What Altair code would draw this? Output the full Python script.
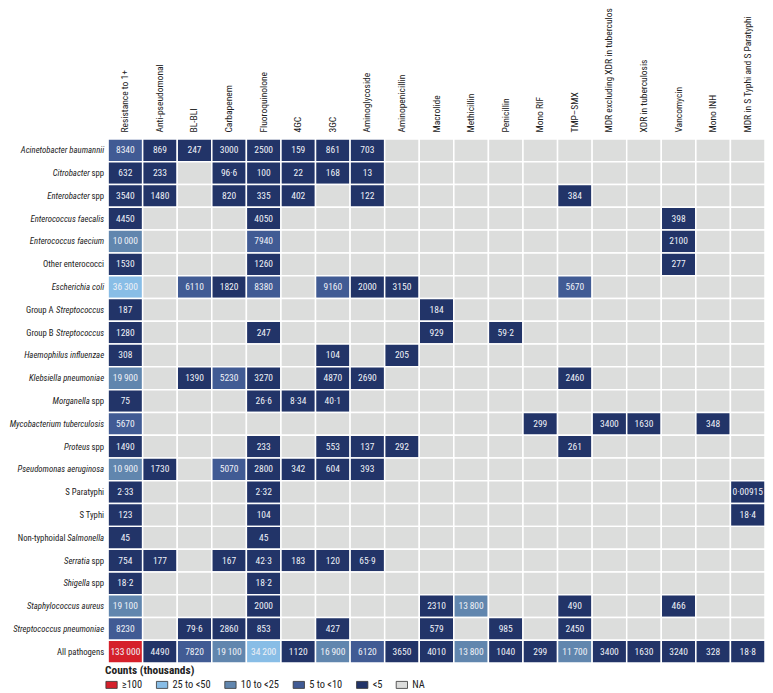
import altair as alt
import pandas as pd

FONT = "Roboto Condensed, Roboto, sans-serif"

drugs = [
    "Resistance to 1+", "Anti-pseudomonal", "BL-BLI", "Carbapenem", "Fluoroquinolone",
    "4GC", "3GC", "Aminoglycoside", "Aminopenicillin", "Macrolide", "Methicillin",
    "Penicillin", "Mono RIF", "TMP\u2013SMX", "MDR excluding XDR in tuberculosis",
    "XDR in tuberculosis", "Vancomycin", "Mono INH", "MDR in S Typhi and S Paratyphi",
]

pathogens = [
    "Acinetobacter baumannii", "Citrobacter spp", "Enterobacter spp", "Enterococcus faecalis",
    "Enterococcus faecium", "Other enterococci", "Escherichia coli", "Group A Streptococcus",
    "Group B Streptococcus", "Haemophilus influenzae", "Klebsiella pneumoniae", "Morganella spp",
    "Mycobacterium tuberculosis", "Proteus spp", "Pseudomonas aeruginosa", "S Paratyphi",
    "S Typhi", "Non-typhoidal Salmonella", "Serratia spp", "Shigella spp",
    "Staphylococcus aureus", "Streptococcus pneumoniae", "All pathogens",
]
# label parts: normal prefix, italic part, normal suffix
prefix_part = ["", "", "", "", "", "", "", "Group A", "Group B", "", "", "", "", "", "", "",
               "", "Non-typhoidal", "", "", "", "", ""]
italic_part = ["Acinetobacter baumannii", "Citrobacter", "Enterobacter", "Enterococcus faecalis",
               "Enterococcus faecium", "", "Escherichia coli", "Streptococcus", "Streptococcus",
               "Haemophilus influenzae", "Klebsiella pneumoniae", "Morganella",
               "Mycobacterium tuberculosis", "Proteus", "Pseudomonas aeruginosa", "", "",
               "Salmonella", "Serratia", "Shigella", "Staphylococcus aureus",
               "Streptococcus pneumoniae", ""]
suffix_part = ["", " spp", " spp", "", "", "Other enterococci", "", "", "", "", "", " spp", "",
               " spp", "", "S Paratyphi", "S Typhi", "", " spp", " spp", "", "", "All pathogens"]

N = None
counts = [
    [8340, 869, 247, 3000, 2500, 159, 861, 703, N, N, N, N, N, N, N, N, N, N, N],
    [632, 233, N, 96.6, 100, 22, 168, 13, N, N, N, N, N, N, N, N, N, N, N],
    [3540, 1480, N, 820, 335, 402, N, 122, N, N, N, N, N, 384, N, N, N, N, N],
    [4450, N, N, N, 4050, N, N, N, N, N, N, N, N, N, N, N, 398, N, N],
    [10000, N, N, N, 7940, N, N, N, N, N, N, N, N, N, N, N, 2100, N, N],
    [1530, N, N, N, 1260, N, N, N, N, N, N, N, N, N, N, N, 277, N, N],
    [36300, N, 6110, 1820, 8380, N, 9160, 2000, 3150, N, N, N, N, 5670, N, N, N, N, N],
    [187, N, N, N, N, N, N, N, N, 184, N, N, N, N, N, N, N, N, N],
    [1280, N, N, N, 247, N, N, N, N, 929, N, 59.2, N, N, N, N, N, N, N],
    [308, N, N, N, N, N, 104, N, 205, N, N, N, N, N, N, N, N, N, N],
    [19900, N, 1390, 5230, 3270, N, 4870, 2690, N, N, N, N, N, 2460, N, N, N, N, N],
    [75, N, N, N, 26.6, 8.34, 40.1, N, N, N, N, N, N, N, N, N, N, N, N],
    [5670, N, N, N, N, N, N, N, N, N, N, N, 299, N, 3400, 1630, N, 348, N],
    [1490, N, N, N, 233, N, 553, 137, 292, N, N, N, N, 261, N, N, N, N, N],
    [10900, 1730, N, 5070, 2800, 342, 604, 393, N, N, N, N, N, N, N, N, N, N, N],
    [2.33, N, N, N, 2.32, N, N, N, N, N, N, N, N, N, N, N, N, N, 0.00915],
    [123, N, N, N, 104, N, N, N, N, N, N, N, N, N, N, N, N, N, 18.4],
    [45, N, N, N, 45, N, N, N, N, N, N, N, N, N, N, N, N, N, N],
    [754, 177, N, 167, 42.3, 183, 120, 65.9, N, N, N, N, N, N, N, N, N, N, N],
    [18.2, N, N, N, 18.2, N, N, N, N, N, N, N, N, N, N, N, N, N, N],
    [19100, N, N, N, 2000, N, N, N, N, 2310, 13800, N, N, 490, N, N, 466, N, N],
    [8230, N, 79.6, 2860, 853, N, 427, N, N, 579, N, 985, N, 2450, N, N, N, N, N],
    [133000, 4490, 7820, 19100, 34200, 1120, 16900, 6120, 3650, 4010, 13800, 1040, 299,
     11700, 3400, 1630, 3240, 328, 18.8],
]

categories = ["\u2265100", "25 to <50", "10 to <25", "5 to <10", "<5", "NA"]
cat_colors = ["#d5202b", "#88bde6", "#6186ae", "#415b94", "#223468", "#dcdddc"]


def category(v):
    if v is None:
        return "NA"
    if v >= 100000:
        return "\u2265100"
    if v >= 25000:
        return "25 to <50"
    if v >= 10000:
        return "10 to <25"
    if v >= 5000:
        return "5 to <10"
    return "<5"


def fmt(v):
    if v is None:
        return ""
    if float(v).is_integer():
        v = int(v)
        if v >= 10000:
            return f"{v:,}".replace(",", "\u2009")
        return str(v)
    return str(v).replace(".", "\u00b7")


cells = []
for i, p in enumerate(pathogens):
    for j, d in enumerate(drugs):
        v = counts[i][j]
        cells.append({"pathogen": p, "drug": d, "cat": category(v), "label": fmt(v)})
cells_df = pd.DataFrame(cells)

rows_df = pd.DataFrame({
    "pathogen": pathogens,
    "prefix": prefix_part,
    "italic": italic_part,
    "suffix": suffix_part,
})

y_enc = alt.Y("pathogen:N", sort=pathogens, axis=None,
              scale=alt.Scale(paddingInner=0, paddingOuter=0))
x_enc = alt.X("drug:N", sort=drugs, title=None,
              scale=alt.Scale(paddingInner=0, paddingOuter=0),
              axis=alt.Axis(orient="top", labelAngle=270, labelAlign="left",
                            labelBaseline="middle", labelPadding=7, labelFont=FONT,
                            labelFontSize=9.6, labelColor="#222222", labelLimit=400,
                            domain=False, ticks=False))

rect = alt.Chart(cells_df).mark_rect(stroke="white", strokeWidth=1.5).encode(
    x=x_enc,
    y=y_enc,
    color=alt.Color(
        "cat:N",
        scale=alt.Scale(domain=categories, range=cat_colors),
        legend=alt.Legend(
            title="Counts (thousands)", orient="none", legendX=-3, legendY=531,
            direction="horizontal", titleFont=FONT, titleFontSize=11.5,
            titleFontWeight="bold", titleColor="#222222", titlePadding=2,
            labelFont=FONT, labelFontSize=10.5, labelColor="#222222", labelOffset=4,
            symbolType="M-1,-0.62H1V0.62H-1Z", symbolSize=130,
            symbolStrokeColor="#333333", symbolStrokeWidth=0.8, symbolOpacity=1,
            columnPadding=12,
        ),
    ),
)

text = alt.Chart(cells_df).transform_filter("datum.label != ''").mark_text(
    font=FONT, fontSize=9.6, color="#eef1f7"
).encode(x=alt.X("drug:N", sort=drugs), y=alt.Y("pathogen:N", sort=pathogens), text="label:N")

LAB = dict(align="right", baseline="middle", font=FONT, fontSize=8.8, color="#222222")
rbase = alt.Chart(rows_df)
lab_suffix = rbase.transform_filter("datum.suffix != ''").mark_text(dx=-4, **LAB).encode(
    y=alt.Y("pathogen:N", sort=pathogens), x=alt.value(0), text="suffix:N")
lab_ital = rbase.transform_filter("datum.suffix == '' && datum.italic != ''").mark_text(
    dx=-4, fontStyle="italic", **LAB).encode(
    y=alt.Y("pathogen:N", sort=pathogens), x=alt.value(0), text="italic:N")
lab_ital_spp = rbase.transform_filter("datum.suffix == ' spp'").mark_text(
    dx=-18.4, fontStyle="italic", **LAB).encode(
    y=alt.Y("pathogen:N", sort=pathogens), x=alt.value(0), text="italic:N")
lab_pre_strep = rbase.transform_filter("indexof(datum.prefix, 'Group') == 0").mark_text(
    dx=-55, **LAB).encode(
    y=alt.Y("pathogen:N", sort=pathogens), x=alt.value(0), text="prefix:N")
lab_pre_salm = rbase.transform_filter("datum.prefix == 'Non-typhoidal'").mark_text(
    dx=-43, **LAB).encode(
    y=alt.Y("pathogen:N", sort=pathogens), x=alt.value(0), text="prefix:N")

chart = alt.layer(
    rect, text, lab_suffix, lab_ital, lab_ital_spp, lab_pre_strep, lab_pre_salm
).properties(
    width=663, height=529,
    autosize=alt.AutoSizeParams(type="none"),
    padding={"left": 101, "top": 129, "right": 0, "bottom": 27},
    background="white",
).configure_view(stroke=None)

chart.save("out.html", embed_options={"renderer": "svg", "actions": False})
